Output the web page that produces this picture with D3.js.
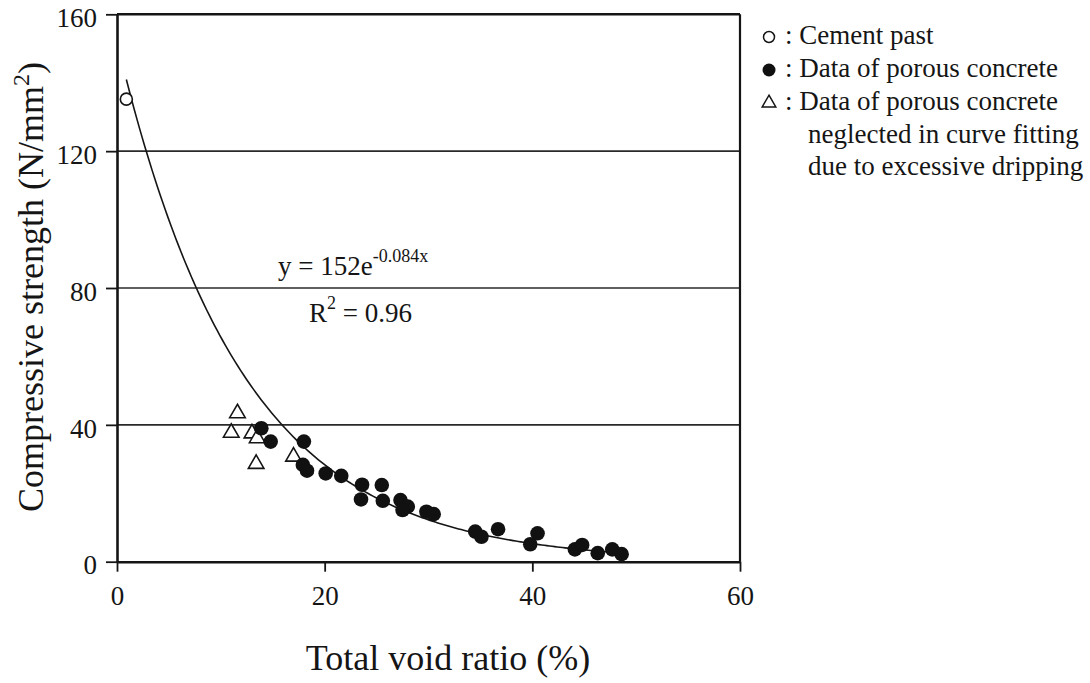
<!DOCTYPE html>
<html>
<head>
<meta charset="utf-8">
<script src="https://cdn.jsdelivr.net/npm/d3@7"></script>
<style>
  body { margin: 0; background: #fff; }
  svg { display: block; }
  svg text { font-family: "Liberation Serif", "Times New Roman", serif; }
</style>
</head>
<body>
<div id="chart"></div>
<script>
// Cement paste (open circle)
const cementX = [0.9];
const cementY = [135.2];

// Porous concrete used in the fit (filled circles)
const porousX = [13.9, 14.8, 18.0, 17.9, 18.3, 20.1, 21.6, 23.6, 23.5, 25.5, 25.6, 27.3, 28.0, 27.5,
  29.8, 30.5, 34.5, 35.1, 36.7, 40.5, 39.8, 44.1, 44.8, 46.3, 47.7, 48.6];
const porousY = [39.0, 35.1, 35.1, 28.3, 26.6, 25.8, 25.1, 22.5, 18.2, 22.4, 17.8, 18.0, 16.1, 15.1,
  14.6, 13.9, 8.8, 7.3, 9.5, 8.3, 5.1, 3.6, 4.9, 2.5, 3.6, 2.2];

// Porous concrete left out of the fit (open triangles)
const neglectedX = [11.6, 11.0, 13.0, 13.5, 13.4, 17.0];
const neglectedY = [43.4, 37.7, 37.5, 36.1, 28.6, 30.7];

// Fitted curve y = fitA * exp(fitB * x), as printed on the chart
const fitA = 152;
const fitB = -0.084;
const fitRange = [0.9, 49];

const xTicks = [0, 20, 40, 60];
const yTicks = [0, 40, 80, 120, 160];
const gridValues = [40, 80, 120];

const legendLabels = [': Cement past', ': Data of porous concrete', ': Data of porous concrete',
  'neglected in curve fitting', 'due to excessive dripping'];

const width = 1090;
const height = 683;
const margin = { top: 14.3, right: 350, bottom: 121.3, left: 117 };
const serif = '"Liberation Serif", "Times New Roman", serif';
const ink = '#151515';

const x = d3.scaleLinear().domain([0, 60]).range([margin.left, width - margin.right]);
const y = d3.scaleLinear().domain([0, 160]).range([height - margin.bottom, margin.top]);

const svg = d3.select('#chart')
  .append('svg')
  .attr('width', width)
  .attr('height', height)
  .attr('font-family', serif);

// Gridlines
svg.append('g')
  .selectAll('line')
  .data(gridValues)
  .enter().append('line')
  .attr('x1', x(0))
  .attr('x2', x(60))
  .attr('y1', d => y(d))
  .attr('y2', d => y(d))
  .attr('stroke', '#2a2a2a')
  .attr('stroke-width', 1.6);

// Axes
const xAxis = svg.append('g')
  .attr('transform', `translate(0,${y(0)})`)
  .call(d3.axisBottom(x).tickValues(xTicks).tickSize(10).tickSizeOuter(0).tickPadding(14));
const yAxis = svg.append('g')
  .attr('transform', `translate(${x(0)},0)`)
  .call(d3.axisLeft(y).tickValues(yTicks).tickSize(11).tickSizeOuter(0).tickPadding(9));

[xAxis, yAxis].forEach((ax) => {
  ax.attr('font-family', serif).attr('font-size', 27);
  ax.select('.domain').attr('stroke', ink).attr('stroke-width', 2.6);
  ax.selectAll('.tick line').attr('stroke', ink).attr('stroke-width', 1.8);
  ax.selectAll('.tick text').attr('fill', ink);
});
xAxis.selectAll('.tick text').attr('dy', '0.71em');
yAxis.selectAll('.tick text').attr('dy', '0.45em');

// Top and right frame
svg.append('line')
  .attr('x1', x(0)).attr('x2', x(60))
  .attr('y1', y(160)).attr('y2', y(160))
  .attr('stroke', ink).attr('stroke-width', 2.6);
svg.append('line')
  .attr('x1', x(60)).attr('x2', x(60))
  .attr('y1', y(160)).attr('y2', y(0))
  .attr('stroke', ink).attr('stroke-width', 2.2);

// Fitted curve
const curveXs = d3.range(fitRange[0], fitRange[1] + 0.001, 0.25);
const line = d3.line()
  .x(d => x(d))
  .y(d => y(fitA * Math.exp(fitB * d)));
svg.append('path')
  .datum(curveXs)
  .attr('d', line)
  .attr('fill', 'none')
  .attr('stroke', ink)
  .attr('stroke-width', 1.6);

// Triangles
const tri = d3.symbol().type(d3.symbolTriangle).size(105);
svg.append('g')
  .selectAll('path')
  .data(neglectedX.map((v, i) => [v, neglectedY[i]]))
  .enter().append('path')
  .attr('d', tri)
  .attr('transform', d => `translate(${x(d[0])},${y(d[1])})`)
  .attr('fill', '#fff')
  .attr('stroke', ink)
  .attr('stroke-width', 1.6);

// Filled circles
svg.append('g')
  .selectAll('circle')
  .data(porousX.map((v, i) => [v, porousY[i]]))
  .enter().append('circle')
  .attr('cx', d => x(d[0]))
  .attr('cy', d => y(d[1]))
  .attr('r', 7.3)
  .attr('fill', '#111');

// Open circle
svg.append('g')
  .selectAll('circle')
  .data(cementX.map((v, i) => [v, cementY[i]]))
  .enter().append('circle')
  .attr('cx', d => x(d[0]))
  .attr('cy', d => y(d[1]))
  .attr('r', 6)
  .attr('fill', '#fff')
  .attr('stroke', ink)
  .attr('stroke-width', 1.6);

// Equation and R²
const eq = svg.append('text')
  .attr('x', 278)
  .attr('y', 275)
  .attr('fill', ink)
  .attr('font-size', 27);
eq.append('tspan').text('y = 152e');
eq.append('tspan').attr('dy', -13).attr('font-size', 18).text('-0.084x');

const r2 = svg.append('text')
  .attr('x', 309)
  .attr('y', 322)
  .attr('fill', ink)
  .attr('font-size', 27);
r2.append('tspan').text('R');
r2.append('tspan').attr('dy', -13).attr('font-size', 18).text('2');
r2.append('tspan').attr('dy', 13).text(' = 0.96');

// Axis titles
svg.append('text')
  .attr('x', 448)
  .attr('y', 670)
  .attr('text-anchor', 'middle')
  .attr('fill', ink)
  .attr('font-size', 36)
  .text('Total void ratio (%)');

const yTitle = svg.append('text')
  .attr('transform', 'translate(43,287) rotate(-90)')
  .attr('text-anchor', 'middle')
  .attr('fill', ink)
  .attr('font-size', 36);
yTitle.append('tspan').text('Compressive strength (N/mm');
yTitle.append('tspan').attr('dy', -14).attr('font-size', 24).text('2');
yTitle.append('tspan').attr('dy', 14).text(')');

// Legend
const legendBase = [44, 77, 110, 143, 175];
const legendX = [785, 785, 785, 808, 808];
const legend = svg.append('g');
legend.selectAll('text')
  .data(legendLabels)
  .enter().append('text')
  .attr('x', (d, i) => legendX[i])
  .attr('y', (d, i) => legendBase[i])
  .attr('fill', ink)
  .attr('font-size', 27)
  .text(d => d);

legend.append('circle')
  .attr('cx', 769).attr('cy', 37).attr('r', 5.5)
  .attr('fill', '#fff').attr('stroke', ink).attr('stroke-width', 1.5);
legend.append('circle')
  .attr('cx', 769).attr('cy', 70).attr('r', 6.5)
  .attr('fill', '#111');
legend.append('path')
  .attr('d', d3.symbol().type(d3.symbolTriangle).size(80))
  .attr('transform', 'translate(769,103)')
  .attr('fill', '#fff').attr('stroke', ink).attr('stroke-width', 1.5);
</script>
</body>
</html>
